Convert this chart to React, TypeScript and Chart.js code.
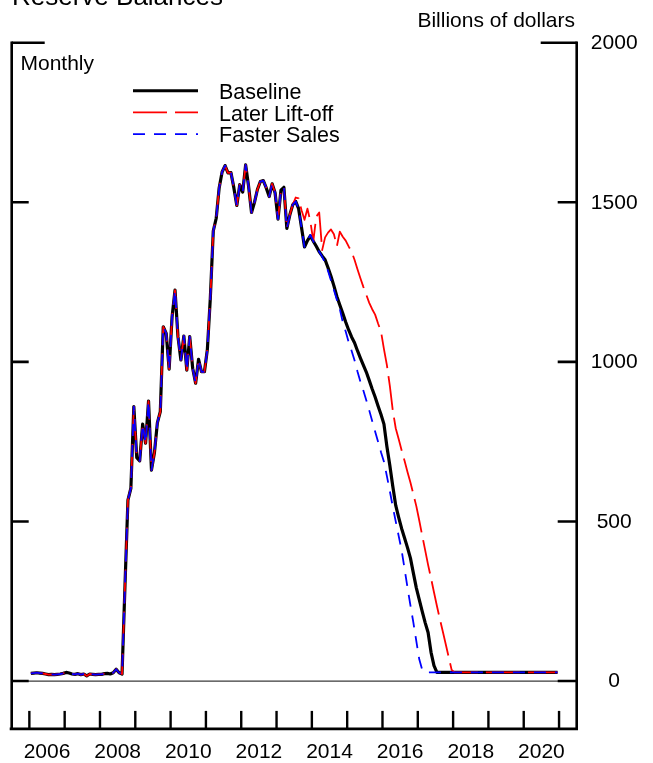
import React, { useEffect, useRef } from "react";
import { Chart, registerables } from "chart.js";

Chart.register(...registerables);

// Monthly data, January 2006 onward (billions of dollars)
const startYear = 2006;

// Shared history, Jan 2006 - Jun 2013
const history = [
  24, 25, 26, 25, 24, 22, 20, 21, 20, 21, 22, 24, 27, 25, 22, 21, 23, 20, 22, 16,
  22, 21, 20, 21, 21, 23, 24, 22, 26, 37, 26, 22,
  300, 567, 604, 860, 700, 690, 805, 745, 877, 661, 715, 809, 844, 1110, 1089, 977,
  1141, 1225, 1079, 1006, 1081, 974, 1079, 980, 933, 1008, 969, 969,
  1040, 1200, 1410, 1450, 1545, 1595, 1615, 1592, 1593, 1545, 1490, 1555, 1532, 1617,
  1550, 1468, 1500, 1540, 1565, 1568, 1545, 1518, 1558, 1530, 1447, 1538, 1547, 1418,
  1460, 1492,
];

// Jul 2013 - Dec 2020
const baselineProj = [
  1503, 1480, 1420, 1360, 1380, 1395, 1378, 1362, 1345, 1332,
  1320, 1295, 1268, 1238, 1205, 1178, 1152, 1125, 1100, 1078,
  1060, 1035, 1012, 990, 968, 942, 915, 890, 862, 835,
  805, 735, 675, 610, 550, 513, 478, 448, 418, 385,
  338, 292, 255, 218, 183, 152, 90, 48,
  27, 27, 27, 27, 27, 27, 27, 27, 27, 27, 27, 27, 27, 27, 27, 27, 27, 27, 27, 27, 27,
  27, 27, 27, 27, 27, 27, 27, 27, 27, 27, 27, 27, 27, 27, 27, 27, 27, 27, 27, 27, 27,
];

const laterLiftoffProj = [
  1515, 1512, 1475, 1445, 1480, 1440, 1378, 1455, 1468, 1350,
  1390, 1405, 1415, 1400, 1362, 1408, 1392, 1380, 1362, 1345,
  1320, 1290, 1262, 1235, 1210, 1185, 1165, 1148, 1120, 1095,
  1040, 990, 925, 848, 792, 758, 723, 690, 655, 622,
  585, 548, 503, 456, 410, 364, 322, 278, 235, 194,
  155, 115, 75, 35,
  27, 27, 27, 27, 27, 27, 27, 27, 27, 27, 27, 27, 27, 27, 27, 27, 27, 27,
  27, 27, 27, 27, 27, 27, 27, 27, 27, 27, 27, 27, 27, 27, 27, 27, 27, 27,
];

const fasterSalesProj = [
  1503, 1480, 1420, 1360, 1380, 1398, 1378, 1362, 1345, 1330,
  1310, 1285, 1255, 1225, 1195, 1165, 1125, 1095, 1062, 1035,
  1005, 970, 938, 910, 880, 848, 815, 782, 750, 717,
  687, 642, 595, 546, 500, 455, 410, 352, 293, 237,
  183, 125, 68, 35,
  27, 27, 27, 27, 27, 27, 27, 27, 27, 27, 27, 27, 27, 27, 27, 27, 27, 27, 27, 27, 27, 27, 27,
  27, 27, 27, 27, 27, 27, 27, 27, 27, 27, 27, 27, 27, 27, 27, 27, 27, 27, 27, 27, 27, 27, 27,
];

const yearTickLabels = ["2006", "2008", "2010", "2012", "2014", "2016", "2018", "2020"];
const yearTickMarks = [2006, 2007, 2008, 2009, 2010, 2011, 2012, 2013, 2014, 2015, 2016, 2017, 2018, 2019, 2020, 2021];
const yTickValues = [0, 500, 1000, 1500, 2000];
const seriesNames = ["Baseline", "Later Lift-off", "Faster Sales"];

const FONT = "'Liberation Sans', Arial, Helvetica, sans-serif";

function toPoints(proj: number[]) {
  return history.concat(proj).map((v, i) => ({ x: startYear + (i + 0.5) / 12, y: v }));
}

const BLACK = { color: "#000000", width: 3.2, dash: [] as number[] };
const RED = { color: "#ff0000", width: 1.8, dash: [34, 8] };
const BLUE = { color: "#0000ff", width: 1.8, dash: [12, 9] };

const framePlugin = {
  id: "framePlugin",
  beforeDatasetsDraw(chart: any) {
    const { ctx, chartArea: a, scales } = chart;
    const y0 = scales.y.getPixelForValue(0);
    ctx.save();
    ctx.strokeStyle = "#3a3a3a";
    ctx.lineWidth = 1.2;
    ctx.beginPath();
    ctx.moveTo(a.left, y0);
    ctx.lineTo(a.right, y0);
    ctx.stroke();
    ctx.restore();
  },
  afterDraw(chart: any) {
    const { ctx, chartArea: a, scales } = chart;
    const xs = scales.x;
    const ys = scales.y;
    ctx.save();
    ctx.strokeStyle = "#000";
    ctx.lineCap = "butt";
    ctx.lineWidth = 2.6;
    // frame: left, right, bottom
    ctx.beginPath();
    ctx.moveTo(a.left, a.top - 1.3);
    ctx.lineTo(a.left, a.bottom);
    ctx.moveTo(a.right, a.top - 1.3);
    ctx.lineTo(a.right, a.bottom);
    ctx.moveTo(a.left - 2, a.bottom);
    ctx.lineTo(a.right + 1.3, a.bottom);
    ctx.stroke();

    // y ticks
    yTickValues.forEach((v) => {
      const py = ys.getPixelForValue(v);
      const top = v === 2000;
      ctx.beginPath();
      ctx.moveTo(a.left, py);
      ctx.lineTo(a.left + (top ? 33 : 17), py);
      ctx.moveTo(a.right, py);
      ctx.lineTo(a.right - (top ? 36 : 19), py);
      ctx.stroke();
    });

    // x ticks
    ctx.lineWidth = 2.4;
    yearTickMarks.forEach((yr) => {
      const px = xs.getPixelForValue(yr);
      ctx.beginPath();
      ctx.moveTo(px, a.bottom - 18);
      ctx.lineTo(px, a.bottom);
      ctx.stroke();
    });

    ctx.fillStyle = "#000";
    ctx.font = `21px ${FONT}`;
    // year labels
    ctx.textAlign = "center";
    ctx.textBaseline = "alphabetic";
    yearTickLabels.forEach((lab) => {
      const px = xs.getPixelForValue(Number(lab) + 0.5);
      ctx.fillText(lab, px, 758);
    });
    // y labels on the right
    ctx.textBaseline = "middle";
    yTickValues.forEach((v) => {
      ctx.fillText(String(v), a.right + 37.5, ys.getPixelForValue(v) + 0.5);
    });

    ctx.textBaseline = "alphabetic";
    ctx.textAlign = "right";
    ctx.fillText("Billions of dollars", 575, 26.5);
    ctx.textAlign = "left";
    ctx.fillText("Monthly", 20.5, 70);

    // title (partly cut off at top)
    ctx.font = `26px ${FONT}`;
    ctx.fillText("Reserve Balances", 12, 5);

    // legend
    const styles = [BLACK, RED, BLUE];
    ctx.font = `21.5px ${FONT}`;
    seriesNames.forEach((name, i) => {
      const ly = 90.7 + i * 21.7;
      const s = styles[i];
      ctx.save();
      ctx.strokeStyle = s.color;
      ctx.lineWidth = s.width === 3.2 ? 3 : 1.6;
      ctx.setLineDash(s.dash);
      ctx.beginPath();
      ctx.moveTo(133, ly);
      ctx.lineTo(198, ly);
      ctx.stroke();
      ctx.restore();
      ctx.fillText(name, 219, ly + 8.3);
    });
    ctx.restore();
  },
};

export default function App() {
  const canvasRef = useRef<HTMLCanvasElement | null>(null);

  useEffect(() => {
    const canvas = canvasRef.current;
    if (!canvas) return;
    const mk = (label: string, proj: number[], s: any, order: number) => ({
      label,
      data: toPoints(proj),
      borderColor: s.color,
      backgroundColor: s.color,
      borderWidth: s.width,
      borderDash: s.dash,
      pointRadius: 0,
      tension: 0,
      fill: false,
      order,
      borderJoinStyle: "round" as const,
    });
    const chart = new Chart(canvas, {
      type: "line",
      data: {
        datasets: [
          mk(seriesNames[0], baselineProj, BLACK, 3),
          mk(seriesNames[1], laterLiftoffProj, RED, 2),
          mk(seriesNames[2], fasterSalesProj, BLUE, 1),
        ],
      },
      options: {
        responsive: false,
        animation: false,
        devicePixelRatio: 1,
        layout: { padding: { left: 11.7, top: 42.7, right: 76.3, bottom: 34.1 } },
        plugins: { legend: { display: false }, tooltip: { enabled: false }, title: { display: false } },
        scales: {
          x: { type: "linear", min: 2005.5, max: 2021.5, display: false },
          y: { type: "linear", min: -150, max: 2000, display: false },
        },
      },
      plugins: [framePlugin],
    });
    return () => chart.destroy();
  }, []);

  return (
    <div style={{ position: "absolute", left: 0, top: 0, width: 653, height: 763, background: "#fff" }}>
      <canvas ref={canvasRef} width={653} height={763} style={{ display: "block" }} />
    </div>
  );
}
